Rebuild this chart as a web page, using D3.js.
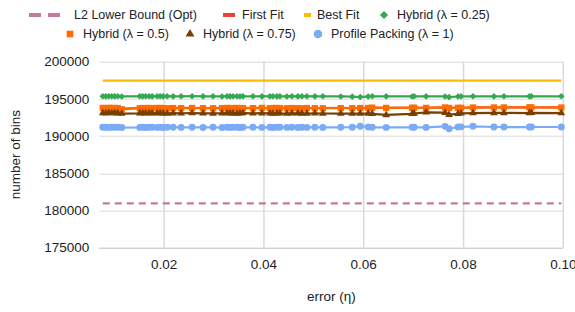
<!DOCTYPE html>
<html>
<head>
<meta charset="utf-8">
<script src="https://cdn.jsdelivr.net/npm/d3@7"></script>
<style>
  body { margin: 0; background: #fff; }
  text { font-family: "Liberation Sans", Arial, sans-serif; fill: #222; }
</style>
</head>
<body>
<div id="chart"></div>
<script>
// error values (x), shared by every series
const errors = [0.0077, 0.0083, 0.0089, 0.0095, 0.0101, 0.0107, 0.0115, 0.0151, 0.0157, 0.0163,
  0.0170, 0.0176, 0.0186, 0.0192, 0.0198, 0.0206, 0.0218, 0.0234, 0.0256, 0.0278,
  0.0298, 0.0316, 0.0326, 0.0332, 0.0338, 0.0346, 0.0352, 0.0358, 0.0378, 0.0396,
  0.0412, 0.0418, 0.0426, 0.0432, 0.0446, 0.0456, 0.0468, 0.0476, 0.0486, 0.0502,
  0.0518, 0.0554, 0.0577, 0.0593, 0.0609, 0.0617, 0.0645, 0.0697, 0.0701, 0.0725,
  0.0763, 0.0771, 0.0789, 0.0795, 0.0819, 0.0861, 0.0881, 0.0932, 0.0936, 0.0996];

const lowerBound = errors.map(() => 180970);
const bestFit = errors.map(() => 197450);

const hybrid025 = [195350, 195340, 195360, 195350, 195340, 195350, 195330, 195350, 195340, 195360,
  195350, 195340, 195350, 195360, 195340, 195350, 195340, 195350, 195360, 195340,
  195350, 195330, 195350, 195340, 195360, 195350, 195340, 195350, 195350, 195340,
  195360, 195350, 195340, 195350, 195330, 195350, 195340, 195350, 195360, 195340,
  195350, 195330, 195300, 195250, 195330, 195350, 195340, 195330, 195350, 195340,
  195330, 195240, 195320, 195340, 195350, 195340, 195350, 195340, 195350, 195350];

const hybrid05 = [193780, 193760, 193790, 193770, 193780, 193760, 193600, 193740, 193770, 193760,
  193780, 193750, 193770, 193780, 193760, 193740, 193770, 193760, 193780, 193750,
  193740, 193760, 193780, 193770, 193760, 193780, 193750, 193770, 193760, 193790,
  193750, 193770, 193780, 193760, 193740, 193770, 193760, 193730, 193770, 193750,
  193740, 193760, 193750, 193770, 193780, 193820, 193790, 193800, 193810, 193790,
  193850, 193780, 193800, 193790, 193840, 193850, 193850, 193860, 193850, 193840];

const firstFit = [193800, 193790, 193810, 193800, 193800, 193790, 193700, 193780, 193800, 193790,
  193800, 193780, 193790, 193800, 193790, 193780, 193790, 193790, 193800, 193780,
  193780, 193790, 193800, 193790, 193790, 193800, 193780, 193790, 193790, 193810,
  193780, 193790, 193800, 193790, 193780, 193790, 193790, 193770, 193790, 193780,
  193780, 193790, 193780, 193790, 193800, 193830, 193810, 193820, 193820, 193810,
  193860, 193800, 193820, 193810, 193850, 193860, 193860, 193870, 193860, 193850];

const hybrid075 = [193100, 193080, 193120, 193090, 193110, 193080, 193020, 193060, 193090, 193080,
  193100, 193070, 193090, 193080, 193060, 193050, 193080, 193070, 193090, 193060,
  193050, 193070, 193090, 193060, 193080, 193050, 193070, 193090, 193060, 193080,
  193070, 193050, 193080, 193060, 193040, 193070, 193060, 193050, 193040, 193060,
  193040, 193020, 193040, 193030, 193030, 193000, 192850, 193000, 193040, 193200,
  193150, 192880, 193000, 193060, 193100, 193110, 193110, 193100, 193120, 193100];

const profile = [191180, 191200, 191170, 191190, 191180, 191200, 191150, 191170, 191190, 191160,
  191180, 191200, 191170, 191190, 191160, 191180, 191200, 191170, 191190, 191160,
  191180, 191150, 191190, 191170, 191180, 191200, 191160, 191190, 191180, 191170,
  191190, 191160, 191180, 191200, 191170, 191180, 191160, 191190, 191170, 191180,
  191160, 191180, 191200, 191330, 191220, 191180, 191170, 191190, 191180, 191170,
  191310, 191000, 191220, 191240, 191320, 191220, 191220, 191210, 191220, 191220];

const yTicks = [175000, 180000, 185000, 190000, 195000, 200000];
const xTicks = [0.02, 0.04, 0.06, 0.08, 0.10];

const series = [
  { name: "L2 Lower Bound (Opt)", values: lowerBound, color: "#c27ba0", dash: "7,5", marker: null },
  { name: "First Fit", values: firstFit, color: "#ea4335", marker: null },
  { name: "Best Fit", values: bestFit, color: "#fbbc04", marker: null },
  { name: "Hybrid (λ = 0.25)", values: hybrid025, color: "#34a853", marker: "diamond" },
  { name: "Hybrid (λ = 0.5)", values: hybrid05, color: "#ff6d01", marker: "square" },
  { name: "Hybrid (λ = 0.75)", values: hybrid075, color: "#783f04", marker: "triangle" },
  { name: "Profile Packing (λ = 1)", values: profile, color: "#7baaf7", marker: "circle" }
];

const W = 575, H = 312;
const margin = { top: 61.7, right: 11.7, bottom: 64.3, left: 99.3 };
const w = W - margin.left - margin.right;
const h = H - margin.top - margin.bottom;

const svg = d3.select("#chart").append("svg").attr("width", W).attr("height", H);
const g = svg.append("g").attr("transform", "translate(" + margin.left + "," + margin.top + ")");

const x = d3.scaleLinear().domain([0.007, 0.1]).range([0, w]);
const y = d3.scaleLinear().domain([175000, 200000]).range([h, 0]);

// grid
g.selectAll(".hgrid").data(yTicks).enter().append("line")
  .attr("x1", 0).attr("x2", w)
  .attr("y1", d => Math.round(y(d)) + 0.5).attr("y2", d => Math.round(y(d)) + 0.5)
  .attr("stroke", d => d === 175000 ? "#bdbdbd" : "#dadada").attr("stroke-width", 1);
g.selectAll(".vgrid").data(xTicks).enter().append("line")
  .attr("x1", d => x(d)).attr("x2", d => x(d))
  .attr("y1", 0).attr("y2", h)
  .attr("stroke", "#dadada").attr("stroke-width", 1.5);

// tick labels
g.selectAll(".ylab").data(yTicks).enter().append("text")
  .attr("x", -10).attr("y", d => y(d)).attr("dy", "0.35em")
  .attr("text-anchor", "end").attr("font-size", "13.5px")
  .text(d => d);
g.selectAll(".xlab").data(xTicks).enter().append("text")
  .attr("x", d => x(d)).attr("y", h + 21)
  .attr("text-anchor", "middle").attr("font-size", "13.5px")
  .text(d => d3.format(".2f")(d));

// axis titles
g.append("text").attr("x", w / 2).attr("y", h + 53)
  .attr("text-anchor", "middle").attr("font-size", "13.5px").text("error (η)");
svg.append("text")
  .attr("transform", "translate(20," + (margin.top + h / 2) + ") rotate(-90)")
  .attr("text-anchor", "middle").attr("font-size", "13.5px").text("number of bins");

// lines
const line = d3.line().x((d, i) => x(errors[i])).y(d => y(d));
series.forEach(s => {
  g.append("path").datum(s.values)
    .attr("fill", "none").attr("stroke", s.color).attr("stroke-width", 2.2)
    .attr("stroke-dasharray", s.dash || null)
    .attr("d", line);
});

const symbolTypes = { diamond: d3.symbolSquare, square: d3.symbolSquare,
  triangle: d3.symbolTriangle, circle: d3.symbolCircle };
const symbolSizes = { diamond: 22, square: 40, triangle: 26, circle: 38 };
const rot = m => m === "diamond" ? " rotate(45)" : "";

series.forEach(s => {
  if (!s.marker) return;
  g.selectAll(null).data(s.values).enter().append("path")
    .attr("transform", (d, i) => "translate(" + x(errors[i]) + "," + y(d) + ")" + rot(s.marker))
    .attr("d", d3.symbol().type(symbolTypes[s.marker]).size(symbolSizes[s.marker])())
    .attr("fill", s.color);
});

// legend
const legendPos = [
  { sx: 29, tx: 74, row: 0 }, { sx: 223, tx: 242, row: 0 }, { sx: 304, tx: 317, row: 0 },
  { sx: 384, tx: 397, row: 0 }, { sx: 70, tx: 83, row: 1 }, { sx: 190, tx: 203, row: 1 },
  { sx: 318, tx: 331, row: 1 }
];
const legendSizes = { diamond: 34, square: 44, triangle: 34, circle: 58 };
const rowY = [15, 34];
const legend = svg.append("g");
series.forEach((s, i) => {
  const p = legendPos[i];
  const cy = rowY[p.row];
  if (!s.marker) {
    if (s.dash) {
      legend.append("line").attr("x1", p.sx).attr("x2", p.sx + 31).attr("y1", cy).attr("y2", cy)
        .attr("stroke", s.color).attr("stroke-width", 4).attr("stroke-dasharray", "12,7");
    } else {
      legend.append("line").attr("x1", p.sx).attr("x2", p.sx + (i === 1 ? 12 : 7)).attr("y1", cy).attr("y2", cy)
        .attr("stroke", s.color).attr("stroke-width", 4);
    }
  } else {
    legend.append("path")
      .attr("transform", "translate(" + p.sx + "," + cy + ")" + rot(s.marker))
      .attr("d", d3.symbol().type(symbolTypes[s.marker]).size(legendSizes[s.marker])())
      .attr("fill", s.color);
  }
  legend.append("text").attr("x", p.tx).attr("y", cy).attr("dy", "0.35em")
    .attr("font-size", "12.5px").text(s.name);
});
</script>
</body>
</html>
